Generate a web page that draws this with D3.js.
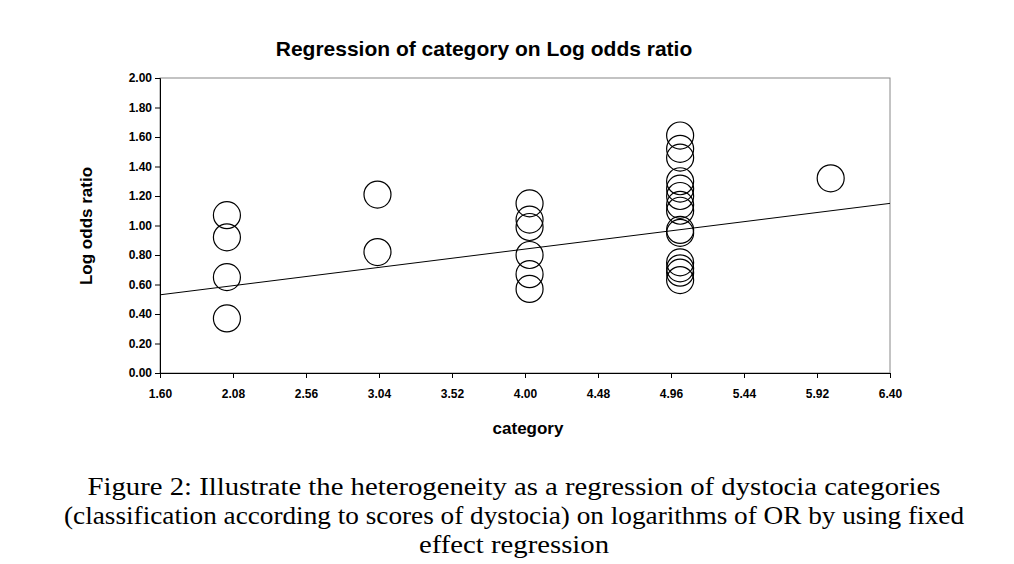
<!DOCTYPE html>
<html><head><meta charset="utf-8">
<script src="https://cdn.jsdelivr.net/npm/d3@7"></script>
<style>body{margin:0;background:#fff}</style>
</head><body>
<svg id="c" width="1014" height="564"></svg>
<script>
const category = [2.04,2.04,2.04,2.04, 3.03,3.03, 4.03,4.03,4.03,4.03,4.03,4.03,
  5.02,5.02,5.02,5.02,5.02,5.02,5.02,5.02,5.02,5.02,5.02,5.02,5.02,5.02, 6.01];
const logOdds = [1.07,0.92,0.65,0.37, 1.21,0.82, 1.15,1.04,0.99,0.80,0.67,0.57,
  1.61,1.52,1.46,1.30,1.25,1.20,1.14,1.10,0.97,0.95,0.75,0.71,0.68,0.63, 1.32];
const xTicks = [1.60,2.08,2.56,3.04,3.52,4.00,4.48,4.96,5.44,5.92,6.40];
const yTicks = [0,0.2,0.4,0.6,0.8,1.0,1.2,1.4,1.6,1.8,2.0];
const fitLine = [[1.6,0.53],[6.4,1.15]];

const svg = d3.select('#c');
const x = d3.scaleLinear().domain([1.6,6.4]).range([160,890]);
const y = d3.scaleLinear().domain([0,2]).range([373,78]);

svg.append('text').attr('x',484).attr('y',56).attr('text-anchor','middle')
  .attr('font-family','Liberation Sans, Arial').attr('font-weight','bold').attr('font-size',21)
  .text('Regression of category on Log odds ratio');

svg.append('rect').attr('x',160).attr('y',78).attr('width',730).attr('height',295)
  .attr('fill','none').attr('stroke','#888').attr('stroke-width',1);

const xa = svg.append('g').attr('transform','translate(0,373)')
  .call(d3.axisBottom(x).tickValues(xTicks).tickFormat(d3.format('.2f')).tickSize(5));
const ya = svg.append('g').attr('transform','translate(160,0)')
  .call(d3.axisLeft(y).tickValues(yTicks).tickFormat(d3.format('.2f')).tickSize(5));
[xa,ya].forEach(a=>{
  a.select('.domain').attr('stroke','#000');
  a.selectAll('text').attr('font-family','Liberation Sans, Arial').attr('font-weight','bold')
    .attr('font-size',12).attr('fill','#000');
});
xa.selectAll('text').attr('dy','1.4em');

svg.append('text').attr('x',528).attr('y',434).attr('text-anchor','middle')
  .attr('font-family','Liberation Sans, Arial').attr('font-weight','bold').attr('font-size',17)
  .text('category');
svg.append('text').attr('transform','translate(92,226) rotate(-90)').attr('text-anchor','middle')
  .attr('font-family','Liberation Sans, Arial').attr('font-weight','bold').attr('font-size',17)
  .text('Log odds ratio');

svg.append('line').attr('x1',x(fitLine[0][0])).attr('y1',y(fitLine[0][1]))
  .attr('x2',x(fitLine[1][0])).attr('y2',y(fitLine[1][1])).attr('stroke','#000');

svg.selectAll('circle.p').data(category).enter().append('circle').attr('class','p')
  .attr('cx',d=>x(d)).attr('cy',(d,i)=>y(logOdds[i])).attr('r',13.5)
  .attr('fill','none').attr('stroke','#000').attr('stroke-width',1.2);

const cap = ['Figure 2: Illustrate the heterogeneity as a regression of dystocia categories',
  '(classification according to scores of dystocia) on logarithms of OR by using fixed',
  'effect regression'];
const capW = [853, 900, 190];
svg.selectAll('text.cap').data(cap).enter().append('text').attr('class','cap')
  .attr('x',514).attr('y',(d,i)=>495+i*29).attr('text-anchor','middle')
  .attr('font-family','Liberation Serif, serif').attr('font-size',26)
  .attr('textLength',(d,i)=>capW[i]).attr('lengthAdjust','spacingAndGlyphs').text(d=>d);
</script>
</body></html>
